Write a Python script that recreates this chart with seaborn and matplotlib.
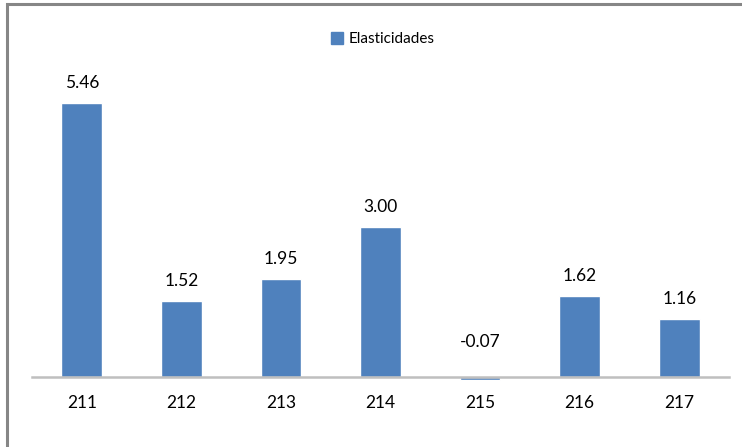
import matplotlib
matplotlib.use("Agg")
import matplotlib.pyplot as plt
import seaborn as sns
from matplotlib.patches import Patch, Rectangle

# Datos del grafico
categorias = ["211", "212", "213", "214", "215", "216", "217"]
elasticidades = [5.46, 1.52, 1.95, 3.00, -0.07, 1.62, 1.16]
serie = "Elasticidades"

azul = "#4F81BD"
gris_eje = "#BFBFBF"
color_texto = "#000000"

sns.set_style("white")
plt.rcParams["font.family"] = ["Lato", "DejaVu Sans"]

fig = plt.figure(figsize=(7.42, 4.47), dpi=100)
ax = fig.add_axes([32 / 742, 0.1007, 697 / 742, 0.7732])

sns.barplot(x=categorias, y=elasticidades, order=categorias, color=azul,
            saturation=1, width=0.41, ax=ax)

ax.set_xlim(-0.5, 6.5)
ax.set_ylim(-0.5, 6.4)

# Eje horizontal en cero
for lado in ["top", "right", "left"]:
    ax.spines[lado].set_visible(False)
ax.spines["bottom"].set_position(("data", 0))
ax.spines["bottom"].set_color(gris_eje)
ax.spines["bottom"].set_linewidth(1.8)
ax.set_yticks([])
ax.tick_params(axis="x", length=0, pad=13, labelsize=12.5, labelcolor=color_texto)
ax.set_xlabel("")
ax.set_ylabel("")

# Etiquetas de datos
for i, v in enumerate(elasticidades):
    desplaz = 14.4 if v >= 0 else 25
    ax.annotate(f"{v:.2f}", (i, max(v, 0)), xytext=(0, desplaz),
                textcoords="offset points", ha="center", va="center",
                fontsize=12.5, color=color_texto)

# Leyenda
fig.legend(handles=[Patch(facecolor=azul, edgecolor=azul, label=serie)],
           loc="center", bbox_to_anchor=(0.5155, 0.9128), frameon=False,
           fontsize=11, handlelength=0.8, handleheight=0.8, handletextpad=0.35,
           labelcolor=color_texto)

# Marco del area del grafico
fig.patches.append(Rectangle((7.5 / 742, -0.1), 1.2, 1.1 - 4.5 / 447,
                             transform=fig.transFigure, fill=False,
                             edgecolor="#868686", linewidth=2.2))

fig.savefig("out.png", dpi=100)
